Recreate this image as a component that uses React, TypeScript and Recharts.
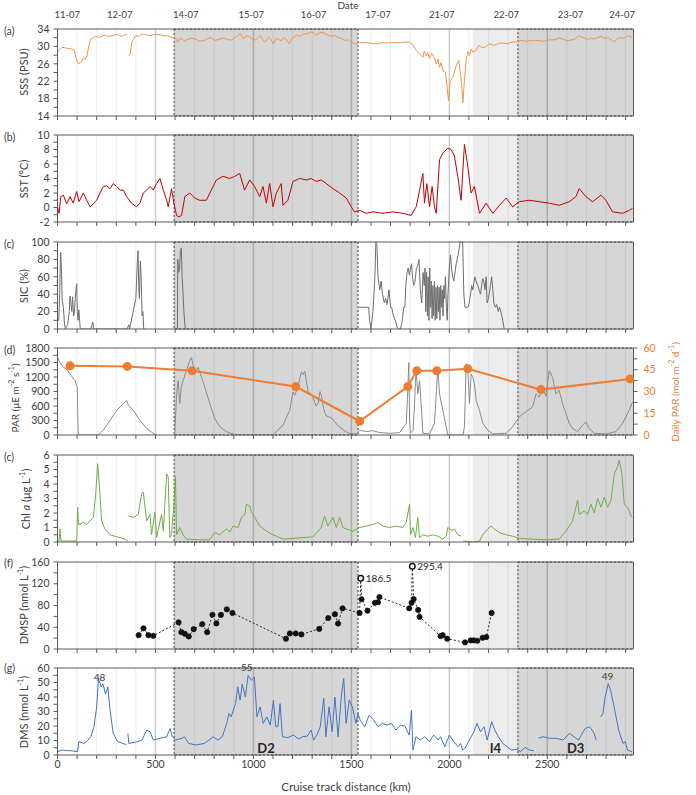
import React from 'react'
import {
  ComposedChart,
  Line,
  XAxis,
  YAxis,
  ReferenceArea,
  ReferenceLine,
  ReferenceDot,
  LabelList,
} from 'recharts'

type Pt = [number, number | null]

// ---- shared x layout (cruise track km) ----
const KM_MAX = 2940
const kmTicks = [0, 100, 200, 300, 400, 500, 600, 700, 800, 900, 1000, 1100, 1200, 1300, 1400, 1500, 1600, 1700, 1800, 1900, 2000, 2100, 2200, 2300, 2400, 2500, 2600, 2700, 2800, 2900]

const dateKm = [50, 318, 655, 989, 1307, 1636, 1961, 2291, 2618, 2882]
const dateLabels = ['11-07', '12-07', '14-07', '15-07', '16-07', '17-07', '21-07', '22-07', '23-07', '24-07']

const regionStart = [0, 364, 627, 1802, 2234]
const regionEnd = [364, 627, 1802, 2234, 2940]
const regionNames = ['H.S', 'F.B', 'N.L.S', 'C.B.I', 'N.L.S']

const shadeStart = [595, 2120, 2350]
const shadeEnd = [1534, 2350, 2940]
const shadeDark = [true, false, true]
const shadeTags = ['D2', 'I4', 'D3']

// ---- series ----
const sss: Pt[] = [
  [0, 28.7], [12, 29.3], [23, 29.8], [45, 29.6], [68, 29.5], [86, 29.1], [95, 27.2], [102, 26.4], [110, 26.0], [118, 26.3],
  [125, 26.6], [132, 27.4], [140, 27.0], [150, 27.6], [160, 30.2], [170, 31.7], [193, 32.3], [215, 32.1], [239, 32.6], [262, 32.3],
  [284, 32.5], [307, 32.8], [325, 32.3], [341, 32.5], [355, 32.9], [358, null], [364, 27.8], [370, 28.2], [380, 31.0], [398, 32.5],
  [415, 32.3], [432, 32.9], [455, 32.6], [477, 32.5], [500, 32.8], [523, 32.7], [540, 32.4], [557, 32.5], [580, 32.1], [602, 32.0],
  [614, 31.0], [625, 31.9], [636, 31.7], [648, 31.2], [659, 31.5], [680, 31.9], [705, 31.7], [725, 31.2], [750, 31.4], [765, 31.8],
  [784, 32.0], [800, 31.4], [818, 31.5], [840, 31.9], [864, 31.7], [885, 31.4], [909, 32.1], [932, 32.9], [950, 31.7], [962, 32.4],
  [977, 32.3], [995, 31.6], [1011, 31.5], [1034, 32.5], [1045, 31.8], [1057, 31.0], [1080, 32.1], [1095, 31.2], [1102, 30.6], [1115, 31.8],
  [1125, 31.7], [1140, 31.3], [1159, 32.0], [1170, 31.5], [1182, 30.6], [1195, 31.6], [1205, 32.1], [1220, 32.6], [1239, 32.3], [1255, 32.9],
  [1273, 32.9], [1290, 33.3], [1307, 33.2], [1318, 32.5], [1330, 32.9], [1345, 33.3], [1364, 33.0], [1380, 32.6], [1398, 32.3], [1415, 32.5],
  [1432, 32.0], [1450, 31.8], [1466, 31.4], [1485, 31.5], [1500, 31.0], [1523, 30.5], [1540, 30.9], [1557, 30.8], [1580, 30.9], [1614, 30.6],
  [1650, 30.8], [1682, 30.8], [1720, 30.9], [1750, 30.8], [1775, 31.0], [1795, 31.0], [1812, 30.5], [1831, 29.1], [1848, 28.3], [1865, 27.5],
  [1872, 28.9], [1882, 27.9], [1890, 28.6], [1899, 27.2], [1910, 28.4], [1924, 27.5], [1933, 26.0], [1942, 27.1], [1950, 25.2], [1958, 26.3],
  [1967, 24.4], [1980, 24.1], [1987, 21.3], [1996, 17.5], [2004, 22.1], [2018, 22.9], [2035, 25.6], [2048, 26.8], [2055, 24.4], [2064, 20.6],
  [2069, 17.1], [2077, 22.1], [2086, 26.8], [2094, 28.8], [2103, 27.9], [2112, 29.4], [2120, 28.7], [2137, 29.1], [2150, 30.2], [2165, 29.8],
  [2182, 29.8], [2205, 30.6], [2227, 30.2], [2245, 30.6], [2261, 30.8], [2295, 30.6], [2320, 31.0], [2341, 31.0], [2365, 31.4], [2386, 31.2],
  [2410, 31.3], [2432, 31.4], [2460, 31.3], [2489, 31.2], [2510, 31.5], [2534, 31.5], [2560, 31.9], [2580, 31.7], [2600, 31.3], [2625, 31.5],
  [2645, 31.8], [2659, 32.5], [2672, 32.2], [2682, 32.1], [2705, 31.5], [2720, 31.9], [2739, 31.7], [2760, 32.1], [2773, 32.3], [2790, 31.9],
  [2807, 32.0], [2825, 31.6], [2841, 31.0], [2858, 31.7], [2875, 32.1], [2890, 31.8], [2909, 32.5], [2932, 32.1],
]

const sst: Pt[] = [
  [0, 0.1], [8, -0.8], [17, 1.5], [30, 1.7], [47, 0.5], [64, 1.5], [80, 0.6], [98, 2.2], [110, 0.8], [132, 2.0],
  [149, 1.0], [166, 0.1], [183, 0.5], [200, 1.0], [217, 2.0], [234, 2.9], [251, 3.0], [268, 2.6], [285, 3.3], [302, 2.9],
  [319, 2.4], [336, 2.4], [353, 1.5], [378, 0.6], [403, 0.1], [421, 0.6], [438, 2.0], [455, 2.4], [472, 2.9], [489, 2.4],
  [506, 3.3], [523, 4.0], [540, 2.4], [557, 1.0], [565, 0.1], [582, 2.6], [594, 0.6], [608, -1.1], [620, -1.3], [633, -1.1],
  [650, 1.5], [675, 2.0], [700, 1.3], [726, 1.0], [760, 1.0], [785, 2.4], [811, 3.8], [845, 4.3], [879, 4.0], [905, 4.3],
  [930, 4.7], [955, 2.4], [981, 3.8], [1006, 2.9], [1032, 1.5], [1049, 2.9], [1066, 0.6], [1083, 3.3], [1100, 0.1], [1117, 2.0],
  [1142, 3.3], [1151, 0.3], [1176, 1.0], [1202, 3.6], [1236, 4.0], [1270, 3.8], [1295, 4.0], [1321, 3.6], [1346, 3.8], [1372, 3.3],
  [1406, 2.6], [1440, 2.0], [1474, 1.3], [1499, 0.1], [1516, -0.6], [1542, -0.4], [1576, -0.8], [1610, -0.6], [1661, -0.8], [1712, -0.6],
  [1763, -0.8], [1805, -1.1], [1831, 0.1], [1848, 2.4], [1865, 4.7], [1873, 0.6], [1885, 3.3], [1899, 0.1], [1912, 2.9], [1924, 0.1],
  [1933, -0.8], [1950, 6.6], [1967, 7.5], [1992, 8.2], [2009, 8.0], [2026, 7.1], [2043, 4.3], [2060, 1.0], [2077, 8.7], [2094, 5.7],
  [2111, 2.0], [2128, 2.9], [2154, -0.8], [2188, 0.6], [2222, -0.8], [2256, 0.3], [2290, 1.3], [2323, 0.1], [2357, 0.8], [2408, 1.0],
  [2459, 0.8], [2510, 0.6], [2561, 0.3], [2612, 0.8], [2646, 1.5], [2663, 2.6], [2697, 1.5], [2731, 0.8], [2774, 1.7], [2799, 1.0],
  [2833, -0.6], [2884, -0.8], [2918, -0.4], [2935, -0.1],
]

const sic: Pt[] = [
  [0, 10], [6, 10], [10, 30], [16, 88], [20, 70], [24, 33], [30, 25], [36, 5], [41, 0], [45, 3], [52, 5], [60, 20], [64, 38], [68, 30],
  [73, 20], [77, 37], [82, 15], [86, 18], [92, 40], [98, 52], [101, 20], [105, 10], [109, 22], [113, 10], [116, 0], [170, 0], [180, 8],
  [184, 0], [355, 0], [364, 5], [368, 0], [400, 35], [408, 80], [411, 90], [415, 45], [418, 35], [423, 78], [427, 60], [432, 15],
  [436, 20], [440, 0], [445, 0], [450, null], [612, 0], [614, 80], [618, 65], [623, 68], [627, 90], [632, 93], [636, 60], [641, 40],
  [645, 20], [652, 0], [659, 0], [665, null], [1540, 25], [1588, 25], [1593, 10], [1600, 0], [1610, 20], [1620, 60], [1625, 100],
  [1630, 98], [1636, 60], [1645, 45], [1652, 55], [1659, 40], [1668, 30], [1675, 35], [1682, 28], [1692, 45], [1700, 25], [1705, 25],
  [1715, 15], [1727, 8], [1733, 2], [1739, 0], [1750, 0], [1756, 5], [1761, 12], [1767, 25], [1773, 25], [1778, 50], [1784, 65],
  [1790, 70], [1796, 62], [1802, 70], [1807, 75], [1812, 60], [1818, 50], [1825, 55], [1832, 70], [1838, 72], [1845, 80], [1852, 45],
  [1859, 30], [1866, 65], [1872, 50], [1876, 70], [1880, 20], [1884, 65], [1888, 15], [1892, 60], [1896, 10], [1900, 70], [1904, 25],
  [1908, 55], [1912, 12], [1916, 50], [1920, 15], [1924, 55], [1928, 10], [1932, 48], [1936, 12], [1940, 50], [1944, 20], [1948, 48],
  [1952, 10], [1956, 50], [1960, 25], [1964, 45], [1968, 15], [1972, 50], [1976, 35], [1980, 60], [1985, 25], [1989, 10], [1993, 40],
  [2000, 70], [2006, 85], [2011, 70], [2017, 60], [2023, 55], [2035, 75], [2045, 85], [2055, 100], [2068, 100], [2074, 40], [2080, 25],
  [2095, 25], [2102, 30], [2108, 40], [2114, 50], [2120, 45], [2130, 60], [2136, 55], [2145, 50], [2152, 45], [2159, 40], [2165, 50],
  [2170, 58], [2176, 55], [2182, 45], [2188, 60], [2193, 30], [2200, 35], [2210, 50], [2216, 60], [2222, 45], [2227, 30], [2235, 25],
  [2242, 28], [2250, 20], [2256, 25], [2261, 22], [2268, 15], [2274, 8], [2280, 0],
]

const par: Pt[] = [
  [0, 1600], [13, 1500], [30, 1400], [47, 1365], [64, 1260], [89, 1125], [101, 990], [104, 300], [106, 0], [208, 0], [234, 100],
  [268, 300], [302, 510], [336, 650], [353, 715], [362, 610], [387, 510], [421, 300], [455, 135], [489, 35], [506, 0], [510, null],
  [598, 0], [603, 400], [608, 850], [616, 1125], [624, 650], [632, 990], [641, 1125], [658, 1330], [675, 1535], [684, 1600], [692, 1450],
  [701, 1260], [718, 1400], [735, 1190], [752, 990], [777, 650], [803, 340], [828, 170], [862, 70], [896, 20], [920, 0], [1100, 0],
  [1117, 70], [1151, 205], [1185, 510], [1202, 890], [1210, 820], [1219, 900], [1228, 990], [1236, 1160], [1245, 1300], [1253, 1250],
  [1262, 1320], [1270, 1125], [1279, 900], [1290, 850], [1300, 820], [1310, 700], [1320, 600], [1330, 650], [1340, 900], [1348, 800],
  [1358, 550], [1370, 400], [1400, 350], [1430, 200], [1460, 100], [1490, 30], [1525, 20], [1542, 100], [1576, 70], [1610, 90],
  [1644, 50], [1695, 35], [1746, 50], [1780, 240], [1788, 920], [1793, 1500], [1797, 300], [1801, 35], [1815, 100], [1822, 600],
  [1827, 1100], [1831, 1330], [1839, 850], [1848, 1125], [1856, 650], [1865, 35], [1899, 20], [1924, 240], [1934, 900], [1941, 1400],
  [1950, 850], [1967, 510], [1984, 170], [1992, 0], [2070, 0], [2077, 170], [2086, 1470], [2094, 1400], [2103, 650], [2111, 1260],
  [2120, 1190], [2128, 1060], [2137, 715], [2154, 510], [2171, 240], [2196, 100], [2222, 20], [2290, 35], [2323, 170], [2357, 375],
  [2391, 480], [2425, 580], [2442, 850], [2459, 785], [2476, 990], [2493, 800], [2510, 1330], [2527, 1190], [2544, 850], [2561, 920],
  [2578, 650], [2595, 440], [2612, 240], [2629, 135], [2655, 70], [2680, 205], [2697, 270], [2714, 135], [2740, 35], [2799, 20],
  [2850, 70], [2884, 240], [2918, 510], [2935, 680],
]

const dailyPar: Pt[] = [
  [64, 47.7], [356, 47.3], [687, 44.3], [1216, 33.4], [1542, 9.5], [1788, 33.4], [1834, 44.3], [1936, 44.3], [2094, 45.7], [2468, 31.3], [2923, 38.7],
]

const chla: Pt[] = [
  [0, 0.07], [8, 0.07], [13, 0.9], [17, 0.07], [98, 0.07], [103, 2.4], [107, 1.2], [132, 1.35], [149, 1.2], [166, 1.45], [183, 1.7],
  [195, 3.3], [205, 5.4], [217, 3.3], [225, 1.45], [242, 0.9], [268, 0.5], [293, 0.4], [319, 0.3], [344, 0.2], [358, 0.1], [360, null],
  [361, 1.8], [387, 1.7], [412, 1.9], [429, 3.3], [438, 3.45], [455, 1.45], [472, 1.9], [480, 0.5], [497, 2.05], [506, 0.3], [531, 1.9],
  [540, 0.75], [557, 4.7], [565, 4.5], [573, 0.3], [582, 0.5], [594, 2.6], [602, 4.5], [608, 0.5], [624, 1.0], [641, 0.5], [658, 0.2],
  [726, 0.15], [777, 0.15], [803, 0.65], [828, 0.5], [862, 0.9], [880, 0.7], [896, 1.1], [922, 1.0], [939, 1.7], [956, 1.9], [964, 2.6],
  [981, 2.5], [990, 2.05], [1007, 1.7], [1032, 1.1], [1066, 0.75], [1100, 0.5], [1151, 0.2], [1202, 0.25], [1253, 0.3], [1304, 0.35],
  [1346, 1.0], [1363, 1.8], [1380, 1.1], [1406, 1.7], [1423, 1.0], [1440, 1.7], [1457, 1.0], [1474, 0.9], [1508, 0.75], [1542, 1.0],
  [1576, 1.1], [1610, 1.2], [1635, 1.35], [1661, 1.1], [1695, 1.0], [1729, 1.1], [1763, 1.0], [1780, 1.35], [1797, 2.6], [1802, 0.5],
  [1814, 1.0], [1827, 0.3], [1839, 1.7], [1848, 0.3], [1865, 0.5], [1890, 0.4], [1916, 0.5], [1941, 0.4], [1967, 0.2], [1984, 0.4],
  [1992, 1.0], [2009, 0.8], [2026, 0.9], [2043, 0.5], [2060, 0.4], [2066, null], [2072, 0.07], [2120, 0.0], [2154, 0.07], [2171, 0.5],
  [2196, 0.9], [2213, 1.1], [2230, 0.9], [2256, 0.65], [2290, 0.5], [2323, 0.4], [2357, 0.25], [2425, 0.2], [2493, 0.15], [2561, 0.2],
  [2595, 0.75], [2629, 1.45], [2655, 2.9], [2663, 1.9], [2689, 2.15], [2706, 1.9], [2723, 2.6], [2740, 2.0], [2757, 3.0], [2774, 2.4],
  [2791, 3.1], [2808, 2.4], [2825, 2.85], [2842, 4.7], [2859, 5.2], [2867, 5.65], [2881, 4.7], [2893, 2.6], [2910, 2.4], [2927, 1.8], [2935, 1.7],
]

const dmsp: Pt[] = [
  [414, 25.5], [439, 38], [464, 25.5], [489, 24.3], [618, 49], [632, 31], [650, 28], [670, 23], [695, 36.5], [739, 45.6], [764, 31],
  [791, 63], [811, 47], [834, 62.7], [864, 73], [893, 66.3], [1166, 18.9], [1186, 28.6], [1216, 28.6], [1245, 26.8], [1336, 37],
  [1382, 57], [1416, 64], [1432, 46.8], [1455, 74.8], [1542, 66.3], [1552, 91.5], [1582, 70.5], [1620, 85], [1636, 86], [1643, 95.5],
  [1795, 74.8], [1807, 85], [1818, 92], [1841, 71.8], [1848, 59], [1955, 23.7], [1966, 25.5], [1989, 18.9], [2080, 12.2], [2109, 15.8],
  [2125, 15.8], [2143, 15.2], [2170, 20.7], [2189, 21.9], [2216, 66.3],
]
// off-scale samples: drawn near the top with their real value written beside
const dmspOffKm = [1548, 1811]
const dmspOffPlot = [130, 152]
const dmspOffText = ['186.5', '295.4']

const dms: Pt[] = [
  [0, 2.3], [23, 3.4], [45, 3.0], [68, 3.0], [102, 2.3], [109, 9.2], [125, 8.5], [136, 8.0], [148, 9.2], [170, 12.6], [186, 19.5],
  [200, 33], [209, 52.7], [223, 47], [232, 49], [245, 42], [257, 47], [268, 31], [284, 15], [307, 9.2], [341, 7.6], [352, 7.3],
  [355, null], [359, 15], [364, 8], [409, 9.2], [432, 10.3], [455, 17.2], [473, 16], [489, 10.3], [523, 11.5], [557, 12.6], [575, 18.3],
  [586, 12.6], [602, 10.3], [636, 11.5], [648, 12.6], [670, 8], [705, 6.9], [750, 8], [773, 10.3], [795, 12.6], [818, 10.3], [841, 12.6],
  [864, 21.8], [875, 28.6], [886, 26.3], [909, 35.5], [920, 47], [932, 37.8], [943, 49], [959, 40], [973, 55], [989, 51.5], [1005, 53.8],
  [1018, 26.3], [1034, 33.2], [1050, 21.8], [1068, 26.3], [1086, 20.6], [1102, 37.8], [1114, 19.5], [1125, 19.5], [1136, 35.5],
  [1148, 12.6], [1175, 12], [1205, 13.7], [1230, 11], [1250, 12.6], [1275, 13], [1295, 17.2], [1307, 10.3], [1325, 14], [1341, 19.5],
  [1359, 39], [1370, 12.6], [1386, 33.2], [1402, 16], [1416, 40], [1432, 12.6], [1450, 42.4], [1461, 52.7], [1473, 21.8], [1489, 37.8],
  [1505, 33.2], [1523, 21.8], [1534, 28.6], [1545, 24], [1568, 19.5], [1591, 27.5], [1614, 24], [1636, 19.5], [1659, 21.8], [1682, 20.6],
  [1705, 21.8], [1727, 17.2], [1750, 20.6], [1773, 20], [1795, 13.7], [1807, 30.9], [1814, 3.4], [1830, 12.6], [1852, 10.3], [1875, 12.6],
  [1898, 9.2], [1920, 13.7], [1943, 10.3], [1955, 12.6], [1977, 5.7], [2000, 13.7], [2023, 9.2], [2045, 5.7], [2057, 8], [2068, 3.4],
  [2080, 4.6], [2102, 10.3], [2125, 16], [2141, 21.8], [2159, 16], [2177, 19.5], [2193, 10.3], [2216, 22.9], [2232, 17.2], [2250, 12.6],
  [2273, 8], [2295, 5.7], [2318, 3.4], [2341, 3.9], [2364, 2.3], [2386, 5.3], [2409, 3.4], [2432, 3.0], [2443, null], [2455, 11.5],
  [2477, 12.6], [2511, 11.5], [2545, 11.5], [2580, 10.3], [2614, 14.9], [2636, 12.6], [2659, 10.3], [2693, 18.3], [2716, 19.5],
  [2739, 14.9], [2750, 10.3], [2762, null], [2773, 26.3], [2784, 28.6], [2795, 40], [2811, 49.2], [2823, 44.7], [2841, 33.2],
  [2864, 17.2], [2886, 8], [2898, 9.2], [2909, 3.4], [2932, 2.3],
]
const dmsPeakKm = [215, 966, 2807]
const dmsPeakVal = [48, 55, 49]

// ---- layout / style ----
const W = 696
const YAXIS_W = 57.5
const RIGHT_GAP = 62.5
const PLOT_H = 87
const MT = 8
const AXIS = '#595959'
const TXT = '#404040'
const ORANGE = '#ED7D31'
const FONT = 'Lato, "Open Sans", sans-serif'

const rows = (pts: Pt[]) => pts.map(([km, v]) => ({ km, v }))
const range = (a: number, b: number, s: number) => {
  const out: number[] = []
  for (let t = a; t <= b + 1e-9; t += s) out.push(Math.round(t * 100) / 100)
  return out
}
const onStep = (t: number, base: number, step: number) => {
  const q = (t - base) / step
  return Math.abs(q - Math.round(q)) < 1e-6
}

const tickStyle = { fontSize: 10.5, fill: TXT, fontFamily: FONT }

interface PanelProps {
  top: number
  domain: [number, number]
  step: number
  labelStep: number
  xLabels?: boolean
  rightAxis?: boolean
  tags?: boolean
  children?: React.ReactNode
}

function Panel({ top, domain, step, labelStep, xLabels = false, rightAxis = false, tags = false, children }: PanelProps) {
  const xh = xLabels ? 22 : 6
  return (
    <div style={{ position: 'absolute', left: 0, top: top - MT }}>
      <ComposedChart
        width={W}
        height={MT + PLOT_H + xh}
        margin={{ top: MT, right: rightAxis ? 0 : RIGHT_GAP, bottom: 0, left: 0 }}
      >
        <XAxis
          dataKey="km"
          type="number"
          domain={[0, KM_MAX]}
          ticks={kmTicks}
          interval={0}
          allowDataOverflow
          height={xh}
          tickSize={4}
          tickMargin={2}
          stroke={AXIS}
          tick={tickStyle}
          tickFormatter={(v: number) => (xLabels && v % 500 === 0 ? String(v) : '')}
        />
        <YAxis
          type="number"
          domain={domain}
          ticks={range(domain[0], domain[1], step)}
          interval={0}
          allowDataOverflow
          width={YAXIS_W}
          tickSize={4}
          tickMargin={4}
          stroke={AXIS}
          tick={tickStyle}
          tickFormatter={(v: number) => (onStep(v, domain[0], labelStep) ? String(v) : '')}
        />
        {rightAxis && (
          <YAxis
            yAxisId="r"
            orientation="right"
            type="number"
            domain={[0, 60]}
            ticks={range(0, 60, 7.5)}
            interval={0}
            width={RIGHT_GAP}
            tickSize={4}
            tickMargin={6}
            stroke={AXIS}
            tick={{ ...tickStyle, fill: ORANGE }}
            tickFormatter={(v: number) => (onStep(v, 0, 15) ? String(v) : '')}
          />
        )}
        {shadeStart.map((s, i) => (
          <ReferenceArea
            key={'sh' + i}
            x1={s}
            x2={shadeEnd[i]}
            fill={shadeDark[i] ? '#d6d6d6' : '#ececec'}
            fillOpacity={1}
            stroke={shadeDark[i] ? '#3a3a3a' : 'none'}
            strokeDasharray="2 2"
            label={
              tags
                ? { value: shadeTags[i], position: 'insideBottom', offset: 2, fontSize: 13, fontWeight: 700, fill: '#262626', fontFamily: FONT }
                : undefined
            }
          />
        ))}
        {kmTicks.slice(1).map((k) => (
          <ReferenceLine
            key={'g' + k}
            x={k}
            stroke={k % 500 === 0 ? 'rgba(0,0,0,0.2)' : 'rgba(0,0,0,0.07)'}
            strokeWidth={k % 500 === 0 ? 1.5 : 1}
          />
        ))}
        {children}
        <ReferenceLine y={domain[1]} stroke={AXIS} />
        {!rightAxis && <ReferenceLine x={KM_MAX} stroke={AXIS} />}
      </ComposedChart>
    </div>
  )
}

function Header() {
  return (
    <div style={{ position: 'absolute', left: 0, top: 0 }}>
      <ComposedChart
        width={W}
        height={28.5}
        data={[{ km: 0, v: 0 }]}
        margin={{ top: 0, right: RIGHT_GAP, bottom: 0, left: YAXIS_W }}
      >
        <XAxis
          dataKey="km"
          orientation="top"
          type="number"
          domain={[0, KM_MAX]}
          ticks={dateKm}
          interval={0}
          height={20.5}
          tickLine={false}
          axisLine={false}
          tickSize={0}
          tickMargin={3}
          tick={{ fontSize: 9.5, fill: TXT, fontFamily: FONT }}
          tickFormatter={(v: number) => dateLabels[dateKm.indexOf(v)]}
        />
        <YAxis hide type="number" domain={[0, 1]} />
        {regionStart.map((s, i) => (
          <ReferenceArea
            key={'r' + i}
            x1={s}
            x2={regionEnd[i]}
            y1={0}
            y2={1}
            fill="#fff"
            fillOpacity={1}
            stroke="#3a3a3a"
            label={{ value: regionNames[i], position: 'center', fontSize: 8, fill: TXT, fontFamily: FONT }}
          />
        ))}
      </ComposedChart>
    </div>
  )
}

const TOPS = [28.5, 135, 242, 348, 455, 561.5, 668]

function VTitle({ x, y, color = TXT, size = 11, children }: { x: number; y: number; color?: string; size?: number; children: React.ReactNode }) {
  return (
    <div
      style={{
        position: 'absolute',
        left: x,
        top: y,
        transform: 'translate(-50%, -50%) rotate(-90deg)',
        whiteSpace: 'nowrap',
        fontSize: size,
        color,
        lineHeight: '12px',
      }}
    >
      {children}
    </div>
  )
}

function Tag({ y, children }: { y: number; children: React.ReactNode }) {
  return (
    <div style={{ position: 'absolute', left: 4, top: y - 7, fontSize: 10.5, color: TXT, lineHeight: '14px' }}>{children}</div>
  )
}

export default function App() {
  const dmspRows = [
    ...dmsp.map(([km, v]) => ({ km, v, lab: undefined as string | undefined })),
    ...dmspOffKm.map((km, i) => ({ km, v: dmspOffPlot[i], lab: dmspOffText[i] })),
  ].sort((a, b) => a.km - b.km)

  const dmspDot = (p: any) => {
    const { cx, cy, payload, index } = p
    if (cx == null || cy == null) return <g key={'d' + index} />
    const open = payload && payload.lab != null
    return (
      <circle
        key={'d' + index}
        cx={cx}
        cy={cy}
        r={open ? 2.8 : 2.6}
        fill={open ? '#fff' : '#111'}
        stroke="#111"
        strokeWidth={open ? 1.4 : 0.8}
      />
    )
  }

  const mid = (i: number) => TOPS[i] + PLOT_H / 2
  const sup = (s: string) => <sup style={{ fontSize: 7 }}>{s}</sup>

  return (
    <div
      style={{
        position: 'absolute',
        left: 0,
        top: 0,
        width: W,
        height: 795,
        overflow: 'hidden',
        background: '#fff',
        fontFamily: FONT,
      }}
    >
      <div
        style={{ position: 'absolute', left: 348, top: 0, transform: 'translateX(-50%)', fontSize: 10, lineHeight: '11px', color: TXT }}
      >
        Date
      </div>
      <Header />

      <Panel top={TOPS[0]} domain={[14, 34]} step={2} labelStep={4}>
        <Line data={rows(sss)} dataKey="v" stroke="#F0954A" strokeWidth={1} dot={false} isAnimationActive={false} />
      </Panel>

      <Panel top={TOPS[1]} domain={[-2, 10]} step={1} labelStep={2}>
        <Line data={rows(sst)} dataKey="v" stroke="#C00000" strokeWidth={1} dot={false} isAnimationActive={false} />
      </Panel>

      <Panel top={TOPS[2]} domain={[0, 100]} step={10} labelStep={20}>
        <Line data={rows(sic)} dataKey="v" stroke="#6e6e6e" strokeWidth={1} dot={false} isAnimationActive={false} />
      </Panel>

      <Panel top={TOPS[3]} domain={[0, 1800]} step={150} labelStep={300} rightAxis>
        <Line data={rows(par)} dataKey="v" stroke="#8a8a8a" strokeWidth={1} dot={false} isAnimationActive={false} />
        <Line
          data={rows(dailyPar)}
          dataKey="v"
          yAxisId="r"
          stroke={ORANGE}
          strokeWidth={2}
          dot={{ r: 3.5, fill: ORANGE, stroke: ORANGE }}
          isAnimationActive={false}
        />
      </Panel>

      <Panel top={TOPS[4]} domain={[0, 6]} step={0.5} labelStep={1}>
        <Line data={rows(chla)} dataKey="v" stroke="#70AD47" strokeWidth={1} dot={false} isAnimationActive={false} />
      </Panel>

      <Panel top={TOPS[5]} domain={[0, 160]} step={20} labelStep={40}>
        <Line
          data={dmspRows}
          dataKey="v"
          stroke="#262626"
          strokeWidth={1}
          strokeDasharray="2 2"
          dot={dmspDot}
          isAnimationActive={false}
        >
          <LabelList dataKey="lab" position="right" offset={5} style={{ fontSize: 10, fill: '#262626', fontFamily: FONT }} />
        </Line>
      </Panel>

      <Panel top={TOPS[6]} domain={[0, 60]} step={5} labelStep={10} xLabels tags>
        <Line data={rows(dms)} dataKey="v" stroke="#4472C4" strokeWidth={1} dot={false} isAnimationActive={false} />
        {dmsPeakKm.map((km, i) => (
          <ReferenceDot
            key={'p' + i}
            x={km}
            y={dmsPeakVal[i]}
            r={0}
            fill="none"
            stroke="none"
            label={{ value: String(dmsPeakVal[i]), position: 'top', offset: 4, fontSize: 10, fill: TXT, fontFamily: FONT }}
          />
        ))}
      </Panel>

      {/* panel letters */}
      <Tag y={TOPS[0] + 2}>(a)</Tag>
      <Tag y={TOPS[1] + 2}>(b)</Tag>
      <Tag y={TOPS[2] + 2}>(c)</Tag>
      <Tag y={TOPS[3] + 2}>(d)</Tag>
      <Tag y={TOPS[4] + 2}>(c)</Tag>
      <Tag y={TOPS[5] + 1}>(f)</Tag>
      <Tag y={TOPS[6]}>(g)</Tag>

      {/* axis titles */}
      <VTitle x={24} y={mid(0)}>SSS (PSU)</VTitle>
      <VTitle x={24} y={mid(1)}>SST (°C)</VTitle>
      <VTitle x={24} y={mid(2)}>SIC (%)</VTitle>
      <VTitle x={13} y={mid(3) + 6} size={10}>
        PAR (μE m{sup('-2')} s{sup('-1')})
      </VTitle>
      <VTitle x={673} y={mid(3)} color={ORANGE} size={10}>
        Daily PAR (mol m{sup('-2')} d{sup('-1')})
      </VTitle>
      <VTitle x={24} y={mid(4)}>
        Chl <i>a</i> (μg L{sup('-1')})
      </VTitle>
      <VTitle x={22} y={mid(5)}>
        DMSP (nmol L{sup('-1')})
      </VTitle>
      <VTitle x={22} y={mid(6)}>
        DMS (nmol L{sup('-1')})
      </VTitle>

      <div
        style={{ position: 'absolute', left: 346, top: 780, transform: 'translateX(-50%)', fontSize: 11.5, color: TXT, whiteSpace: 'nowrap' }}
      >
        Cruise track distance (km)
      </div>
    </div>
  )
}
